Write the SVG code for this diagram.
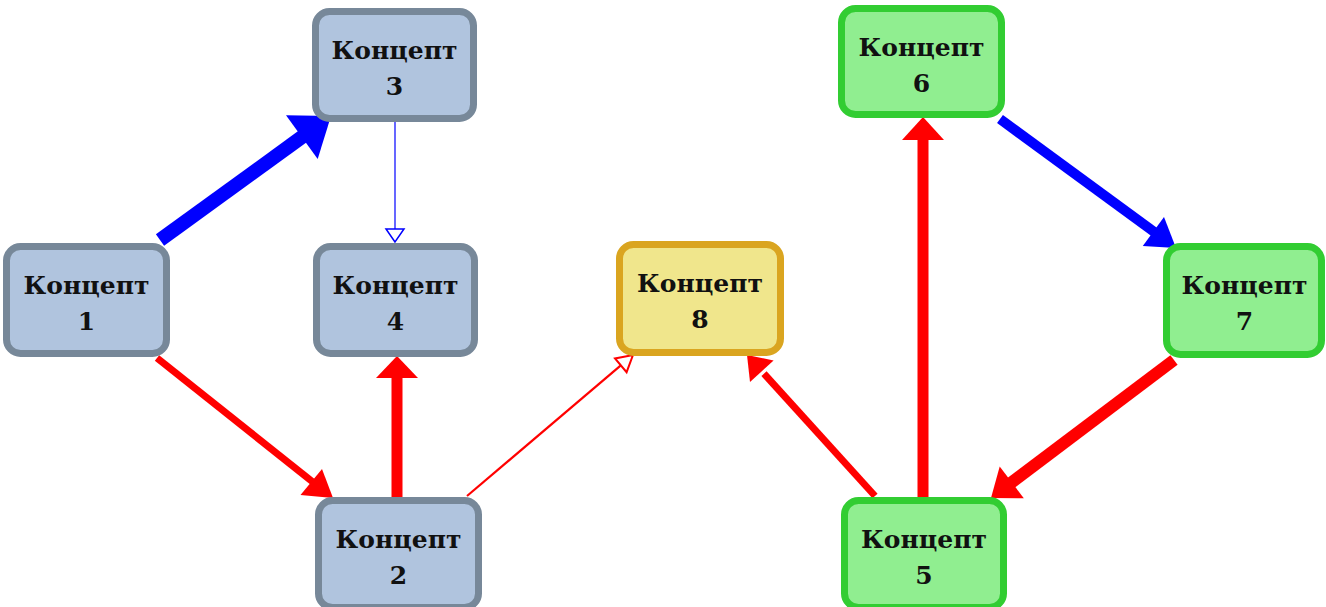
<svg xmlns="http://www.w3.org/2000/svg" width="1326" height="607" viewBox="0 0 1326 607">
<style>
.n rect{stroke-width:7}
.gray rect{fill:#b0c4de;stroke:#778899}
.yel rect{fill:#f0e68c;stroke:#daa520}
.grn rect{fill:#90ee90;stroke:#32cd32}
.n text{font-family:"DejaVu Serif","Liberation Serif",serif;font-weight:bold;font-size:25px;fill:#111;text-anchor:middle}
.red{stroke:#ff0000;fill:none}
.blue{stroke:#0000ff;fill:none}
.hr{fill:#ff0000}
.hb{fill:#0000ff}
.open-r{fill:#fff;stroke:#ff0000;stroke-width:2}
.open-b{fill:#fff;stroke:#0000ff;stroke-width:1.5}
</style>
<rect width="1326" height="607" fill="#fff"/>
<g id="connectors">
<line class="blue" x1="160" y1="240" x2="304" y2="135.5" stroke-width="14"/>
<polygon class="hb" points="331,116 317.7,159 286,115.3"/>
<line class="blue" x1="395" y1="122" x2="395" y2="229" stroke-width="1.2"/>
<polygon class="open-b" points="395,242 386,229 404,229"/>
<line class="red" x1="157" y1="358" x2="315" y2="483.7" stroke-width="7"/>
<polygon class="hr" points="333,498 300.5,495 322,469"/>
<line class="red" x1="397" y1="497" x2="397" y2="374" stroke-width="11"/>
<polygon class="hr" points="397,356 376,378 418,378"/>
<line class="red" x1="467" y1="496" x2="622" y2="364.4" stroke-width="2.2"/>
<polygon class="open-r" points="633,355 626.6,372.2 615,358.5"/>
<line class="red" x1="875" y1="496" x2="764" y2="373.7" stroke-width="7"/>
<polygon class="hr" points="747,355 773.6,360.5 750,382.1"/>
<line class="red" x1="923" y1="497" x2="923" y2="136" stroke-width="11"/>
<polygon class="hr" points="923,117 902,140 944,140"/>
<line class="blue" x1="1000" y1="119" x2="1156" y2="233.3" stroke-width="10"/>
<polygon class="hb" points="1176,248 1142.8,246 1164,216.9"/>
<line class="red" x1="1174" y1="360" x2="1009" y2="484.4" stroke-width="12"/>
<polygon class="hr" points="991,498 999.7,466.4 1023.8,498.3"/>
</g>
<g id="node1" class="n gray"><rect x="6.5" y="246.5" width="160" height="107" rx="14"/><text x="86.5" y="294">Концепт</text><text x="86.5" y="330">1</text></g>
<g id="node3" class="n gray"><rect x="315.5" y="11.5" width="158" height="107" rx="14"/><text x="394.5" y="59">Концепт</text><text x="394.5" y="95">3</text></g>
<g id="node4" class="n gray"><rect x="316.5" y="246.5" width="158" height="107" rx="14"/><text x="395.5" y="294">Концепт</text><text x="395.5" y="330">4</text></g>
<g id="node2" class="n gray"><rect x="318.5" y="500.5" width="160" height="107" rx="14"/><text x="398.5" y="548">Концепт</text><text x="398.5" y="584">2</text></g>
<g id="node8" class="n yel"><rect x="619.5" y="244.5" width="161" height="108" rx="14"/><text x="700" y="292">Концепт</text><text x="700" y="328">8</text></g>
<g id="node6" class="n grn"><rect x="841.5" y="8.5" width="160" height="106" rx="14"/><text x="921.5" y="56">Концепт</text><text x="921.5" y="92">6</text></g>
<g id="node5" class="n grn"><rect x="844.5" y="500.5" width="159" height="107" rx="14"/><text x="924" y="548">Концепт</text><text x="924" y="584">5</text></g>
<g id="node7" class="n grn"><rect x="1166.5" y="246.5" width="155" height="108" rx="14"/><text x="1244.5" y="294">Концепт</text><text x="1244.5" y="330">7</text></g>
</svg>
